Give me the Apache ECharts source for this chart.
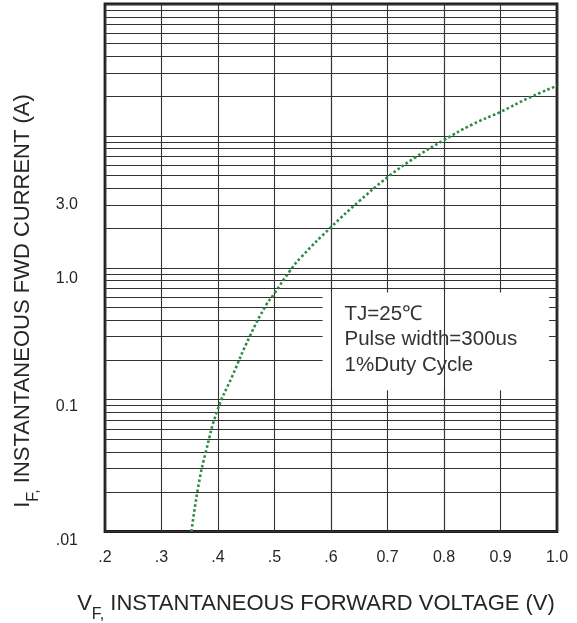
<!DOCTYPE html>
<html>
<head>
<meta charset="utf-8">
<script src="https://cdn.jsdelivr.net/npm/echarts@6/dist/echarts.min.js"></script>
<style>
html,body{margin:0;padding:0;background:#fff;}
#chart{width:577px;height:623px;}
</style>
</head>
<body>
<div id="chart"></div>
<script>
// ---- data ----
const voltage = [0.353, 0.366, 0.379, 0.399, 0.425, 0.456, 0.485, 0.50, 0.526, 0.547, 0.60, 0.65, 0.70, 0.75, 0.80, 0.85, 0.90, 0.95, 1.00];
const current = [0.01, 0.023, 0.041, 0.083, 0.15, 0.30, 0.52, 0.64, 0.93, 1.2, 2.03, 3.2, 4.85, 6.9, 9.3, 12.2, 15.2, 19.4, 24];

const xTickLabels = ['.2', '.3', '.4', '.5', '.6', '0.7', '0.8', '0.9', '1.0'];
const yLabelValues = [0.01, 0.1, 1, 3];
const yLabelTexts = ['.01', '0.1', '1.0', '3.0'];
const yGridValues = [
  0.01, 0.02, 0.03, 0.04, 0.05, 0.06, 0.07, 0.08, 0.09,
  0.1, 0.2, 0.3, 0.4, 0.5, 0.6, 0.7, 0.8, 0.9,
  1, 2, 3, 4, 5, 6, 7, 8, 9,
  10, 20, 30, 40, 50, 60, 70, 80, 90,
  100
];
const noteLines = ['TJ=25\u2103', 'Pulse width=300us', '1%Duty Cycle'];
const noteBox = { x0: 0.585, x1: 0.986, y0: 0.118, y1: 0.65 };
const boxThroughLines = [0.6, 0.8];

const FONT = 'Liberation Sans, Arial, Helvetica, sans-serif';
const TXT = '#262626';
const GRIDC = '#333333';

// per-label vertical nudges (style only)
const yLabelRich = {
  l0: { padding: [18, 0, 0, 0], fontSize: 16, color: TXT, fontFamily: FONT },
  l1: { padding: [14, 0, 0, 0], fontSize: 16, color: TXT, fontFamily: FONT },
  l2: { padding: [22, 0, 0, 0], fontSize: 16, color: TXT, fontFamily: FONT },
  l3: { padding: [0, 0, 0, 0], fontSize: 16, color: TXT, fontFamily: FONT }
};

const chart = echarts.init(document.getElementById('chart'), null, { renderer: 'canvas' });

const seriesData = voltage.map((v, i) => [v, current[i]]);

const option = {
  backgroundColor: '#fff',
  animation: false,
  grid: {
    left: 105, right: 20, top: 4, bottom: 91.5,
    show: true, borderColor: '#1e1e1e', borderWidth: 2.8, backgroundColor: 'transparent'
  },
  xAxis: {
    type: 'value', min: 0.2, max: 1.0, interval: 0.1,
    axisLine: { show: false }, axisTick: { show: false },
    splitLine: { show: true, lineStyle: { color: GRIDC, width: 1.1 } },
    axisLabel: {
      margin: 18, fontSize: 16, color: TXT, fontFamily: FONT,
      formatter: (val, idx) => xTickLabels[idx] !== undefined ? xTickLabels[idx] : ''
    }
  },
  yAxis: {
    type: 'log', logBase: 10, min: 0.01, max: 100,
    axisLine: { show: false },
    axisTick: { show: false, customValues: yGridValues },
    splitLine: { show: true, lineStyle: { color: GRIDC, width: 1.1 } },
    minorSplitLine: { show: false },
    axisLabel: {
      margin: 27, fontSize: 16, color: TXT, fontFamily: FONT,
      customValues: yLabelValues,
      formatter: (val) => {
        let best = 0, bd = Infinity;
        yLabelValues.forEach((v, i) => { const d = Math.abs(Math.log10(v) - Math.log10(val)); if (d < bd) { bd = d; best = i; } });
        return '{l' + best + '|' + yLabelTexts[best] + '}';
      },
      rich: yLabelRich
    }
  },
  series: [{
    type: 'line',
    data: seriesData,
    smooth: 0.5,
    showSymbol: false,
    symbol: 'none',
    lineStyle: { color: '#2f8a44', width: 2.6, type: [2.6, 2.4], cap: 'butt' },
    z: 5,
    markArea: {
      silent: true,
      itemStyle: { color: '#ffffff', opacity: 1 },
      label: {
        show: true,
        position: 'insideTopLeft',
        distance: 0,
        padding: [9, 0, 0, 22],
        fontSize: 20.5,
        lineHeight: 25.5,
        color: '#333',
        fontFamily: FONT,
        formatter: noteLines.join('\n')
      },
      data: [[
        { xAxis: noteBox.x0, yAxis: noteBox.y0 },
        { xAxis: noteBox.x1, yAxis: noteBox.y1 }
      ]]
    },
    markLine: {
      silent: true,
      symbol: 'none',
      label: { show: false },
      lineStyle: { color: GRIDC, width: 1.1, type: 'solid' },
      data: boxThroughLines.map(v => ({ xAxis: v }))
    }
  }],
  graphic: [
    {
      type: 'text',
      x: 316, y: 604,
      style: {
        text: 'V{s|F,} INSTANTANEOUS FORWARD VOLTAGE (V)',
        align: 'center', verticalAlign: 'middle',
        fill: TXT, fontSize: 22, fontFamily: FONT,
        rich: {
          s: { fontSize: 16, lineHeight: 16, padding: [14, 0, 0, 0], verticalAlign: 'top', fill: TXT, fontFamily: FONT }
        }
      }
    },
    {
      type: 'text',
      x: 23, y: 301,
      rotation: Math.PI / 2,
      style: {
        text: 'I{s|F,} INSTANTANEOUS FWD CURRENT (A)',
        align: 'center', verticalAlign: 'middle',
        fill: TXT, fontSize: 22, fontFamily: FONT,
        rich: {
          s: { fontSize: 16, lineHeight: 16, padding: [14, 0, 0, 0], verticalAlign: 'top', fill: TXT, fontFamily: FONT }
        }
      }
    }
  ]
};

chart.setOption(option);
</script>
</body>
</html>
